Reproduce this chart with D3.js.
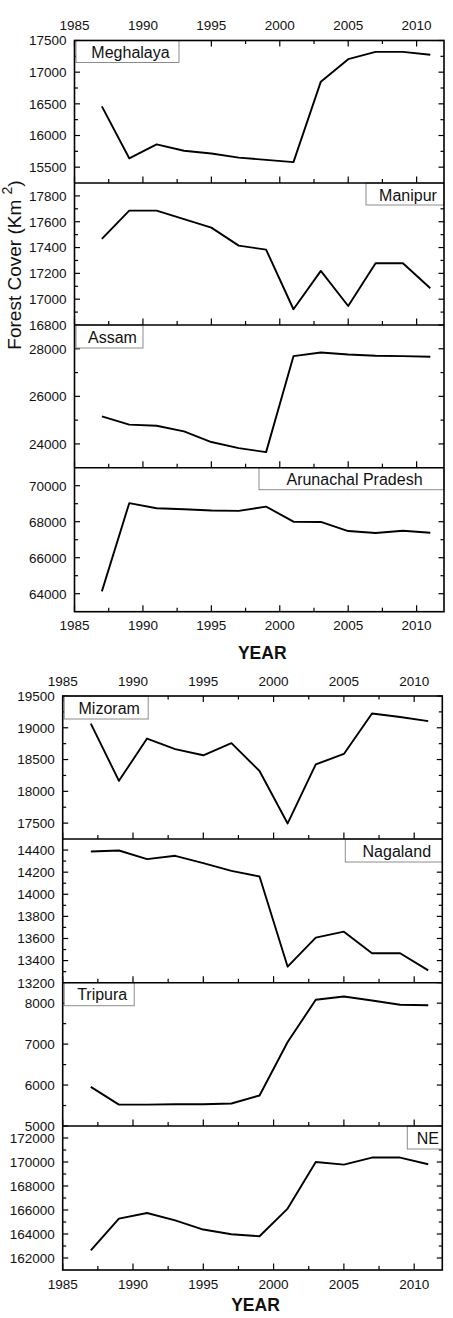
<!DOCTYPE html>
<html>
<head>
<meta charset="utf-8">
<script src="https://cdn.jsdelivr.net/npm/d3@7"></script>
<style>
  body { margin: 0; background: #fff; }
  text { font-family: Arial, "Liberation Sans", sans-serif; fill: #111; }
</style>
</head>
<body>
<script>

// years sampled (FSI assessments)
var years = [1987, 1989, 1991, 1993, 1995, 1997, 1999, 2001, 2003, 2005, 2007, 2009, 2011];
var xTickVals = [1985, 1990, 1995, 2000, 2005, 2010];

var meghalaya = [16460, 15640, 15860, 15760, 15715, 15650, 15615, 15580, 16850, 17205, 17320, 17320, 17275];
var manipur   = [17467, 17686, 17686, 17620, 17554, 17415, 17384, 16922, 17219, 16947, 17278, 17278, 17085];
var assam     = [25160, 24810, 24765, 24525, 24080, 23825, 23655, 27690, 27845, 27760, 27705, 27690, 27665];
var arunachal = [64130, 69030, 68750, 68695, 68620, 68600, 68840, 68000, 67985, 67480, 67370, 67495, 67385];
var mizoram   = [19065, 18165, 18830, 18665, 18567, 18758, 18320, 17495, 18423, 18588, 19225, 19170, 19105];
var nagaland  = [14387, 14396, 14318, 14348, 14282, 14212, 14161, 13345, 13608, 13662, 13466, 13466, 13312];
var tripura   = [5956, 5522, 5522, 5530, 5530, 5550, 5745, 7051, 8083, 8163, 8066, 7961, 7951];
var ne        = [162640, 165280, 165750, 165140, 164370, 163975, 163810, 166120, 170000, 169785, 170370, 170370, 169810];

var meghalayaTicks = [15500, 16000, 16500, 17000, 17500];
var manipurTicks   = [16800, 17000, 17200, 17400, 17600, 17800];
var assamTicks     = [24000, 26000, 28000];
var arunachalTicks = [64000, 66000, 68000, 70000];
var mizoramTicks   = [17500, 18000, 18500, 19000, 19500];
var nagalandTicks  = [13200, 13400, 13600, 13800, 14000, 14200, 14400];
var tripuraTicks   = [5000, 6000, 7000, 8000];
var neTicks        = [162000, 164000, 166000, 168000, 170000, 172000];

var width = 453, height = 1318;

var svg = d3.select("body").append("svg")
    .attr("width", width)
    .attr("height", height);

svg.append("rect").attr("width", width).attr("height", height).attr("fill", "#fff");

var figures = [
  { left: 74.5, right: 444, topLabel: 25, bottomLabel: 625, yearY: 653,
    panels: [
      { name: "Meghalaya", data: meghalaya, ticks: meghalayaTicks, domain: [15250, 17500], y0: 40.5, y1: 183, side: "left", boxW: 103, boxH: 22 },
      { name: "Manipur", data: manipur, ticks: manipurTicks, domain: [16800, 17900], y0: 183, y1: 325, side: "right", boxW: 78, boxH: 22 },
      { name: "Assam", data: assam, ticks: assamTicks, domain: [23000, 29000], y0: 325, y1: 467.7, side: "left", boxW: 67, boxH: 23 },
      { name: "Arunachal Pradesh", data: arunachal, ticks: arunachalTicks, domain: [63000, 71000], y0: 467.7, y1: 611.7, side: "right", boxW: 185, boxH: 22 }
    ] },
  { left: 62.7, right: 442.3, topLabel: 680.7, bottomLabel: 1284, yearY: 1305,
    panels: [
      { name: "Mizoram", data: mizoram, ticks: mizoramTicks, domain: [17250, 19500], y0: 696, y1: 839, side: "left", boxW: 84, boxH: 23 },
      { name: "Nagaland", data: nagaland, ticks: nagalandTicks, domain: [13200, 14500], y0: 839, y1: 982.7, side: "right", boxW: 97, boxH: 23 },
      { name: "Tripura", data: tripura, ticks: tripuraTicks, domain: [5000, 8500], y0: 982.7, y1: 1126, side: "left", boxW: 70, boxH: 23 },
      { name: "NE", data: ne, ticks: neTicks, domain: [161000, 173000], y0: 1126, y1: 1270, side: "right", boxW: 35, boxH: 23 }
    ] }
];

function drawFigure(fig) {
  var g = svg.append("g");
  var xScale = d3.scaleLinear().domain([1985, 2012]).range([fig.left, fig.right]);
  var top = fig.panels[0].y0, bottom = fig.panels[fig.panels.length - 1].y1;

  var minorX = d3.range(1987.5, 2012, 5);

  // top axis labels + ticks pointing down
  g.selectAll(null).data(xTickVals).enter().append("text")
      .attr("x", function(d) { return xScale(d); })
      .attr("y", fig.topLabel)
      .attr("dy", "0.36em")
      .attr("text-anchor", "middle")
      .attr("font-size", "13.5px")
      .text(function(d) { return d; });
  g.selectAll(null).data(xTickVals.concat(minorX)).enter().append("line")
      .attr("x1", function(d) { return xScale(d); })
      .attr("x2", function(d) { return xScale(d); })
      .attr("y1", top)
      .attr("y2", function(d) { return top + (d % 5 === 0 ? 6 : 3.5); })
      .attr("stroke", "#000").attr("stroke-width", 1.2);

  fig.panels.forEach(function(p) {
    var yScale = d3.scaleLinear().domain(p.domain).range([p.y1, p.y0]);
    var step = p.ticks[1] - p.ticks[0];
    var minorY = d3.range(p.domain[0], p.domain[1] + 1, step / 2)
        .filter(function(v) { return p.ticks.indexOf(v) < 0 && v > p.domain[0] && v < p.domain[1]; });

    // y tick labels
    g.selectAll(null).data(p.ticks).enter().append("text")
        .attr("x", fig.left - 8)
        .attr("y", function(d) { return yScale(d); })
        .attr("dy", "0.36em")
        .attr("text-anchor", "end")
        .attr("font-size", "13.5px")
        .text(function(d) { return d; });

    // left and right ticks (inward)
    var allY = p.ticks.map(function(v) { return { v: v, len: 5.5 }; })
        .concat(minorY.map(function(v) { return { v: v, len: 3.5 }; }));
    g.selectAll(null).data(allY).enter().append("line")
        .attr("x1", fig.left).attr("x2", function(d) { return fig.left + d.len; })
        .attr("y1", function(d) { return yScale(d.v); })
        .attr("y2", function(d) { return yScale(d.v); })
        .attr("stroke", "#000").attr("stroke-width", 1.2);
    g.selectAll(null).data(allY).enter().append("line")
        .attr("x1", fig.right).attr("x2", function(d) { return fig.right - d.len; })
        .attr("y1", function(d) { return yScale(d.v); })
        .attr("y2", function(d) { return yScale(d.v); })
        .attr("stroke", "#000").attr("stroke-width", 1.2);

    // bottom ticks of each panel pointing up
    g.selectAll(null).data(xTickVals.concat(minorX)).enter().append("line")
        .attr("x1", function(d) { return xScale(d); })
        .attr("x2", function(d) { return xScale(d); })
        .attr("y1", p.y1)
        .attr("y2", function(d) { return p.y1 - (d % 5 === 0 ? 6.5 : 4); })
        .attr("stroke", "#000").attr("stroke-width", 1.2);

    // the series line
    var line = d3.line()
        .x(function(d, i) { return xScale(years[i]); })
        .y(function(d) { return yScale(d); });
    g.append("path")
        .datum(p.data)
        .attr("d", line)
        .attr("fill", "none")
        .attr("stroke", "#000")
        .attr("stroke-width", 1.9)
        .attr("stroke-linejoin", "round");

    // legend box
    var bx = p.side === "left" ? fig.left + 1.5 : fig.right - p.boxW;
    g.append("rect")
        .attr("x", bx).attr("y", p.y0)
        .attr("width", p.boxW).attr("height", p.boxH)
        .attr("fill", "#fff")
        .attr("stroke", "#8c8c8c").attr("stroke-width", 1);
    g.append("text")
        .attr("x", bx + p.boxW / 2 + 3)
        .attr("y", p.y0 + 17.5)
        .attr("text-anchor", "middle")
        .attr("font-size", "16px")
        .text(p.name);
  });

  // separators and frame
  fig.panels.slice(1).forEach(function(p) {
    g.append("line")
        .attr("x1", fig.left).attr("x2", fig.right)
        .attr("y1", p.y0).attr("y2", p.y0)
        .attr("stroke", "#000").attr("stroke-width", 1.4);
  });
  g.append("rect")
      .attr("x", fig.left).attr("y", top)
      .attr("width", fig.right - fig.left).attr("height", bottom - top)
      .attr("fill", "none")
      .attr("stroke", "#000").attr("stroke-width", 1.6);

  // bottom axis labels
  g.selectAll(null).data(xTickVals).enter().append("text")
      .attr("x", function(d) { return xScale(d); })
      .attr("y", fig.bottomLabel)
      .attr("dy", "0.36em")
      .attr("text-anchor", "middle")
      .attr("font-size", "13.5px")
      .text(function(d) { return d; });

  g.append("text")
      .attr("x", (fig.left + fig.right) / 2 + 3)
      .attr("y", fig.yearY)
      .attr("dy", "0.36em")
      .attr("text-anchor", "middle")
      .attr("font-size", "17.5px")
      .attr("font-weight", "bold")
      .text("YEAR");
}

figures.forEach(drawFigure);

// y axis title for the top figure
var ylab = svg.append("text")
    .attr("transform", "translate(21,265) rotate(-90)")
    .attr("text-anchor", "middle")
    .attr("font-size", "19px");
ylab.append("tspan").text("Forest Cover (Km ");
ylab.append("tspan").attr("dy", -9).attr("font-size", "14px").text("2");
ylab.append("tspan").attr("dy", 9).text(")");

</script>
</body>
</html>
